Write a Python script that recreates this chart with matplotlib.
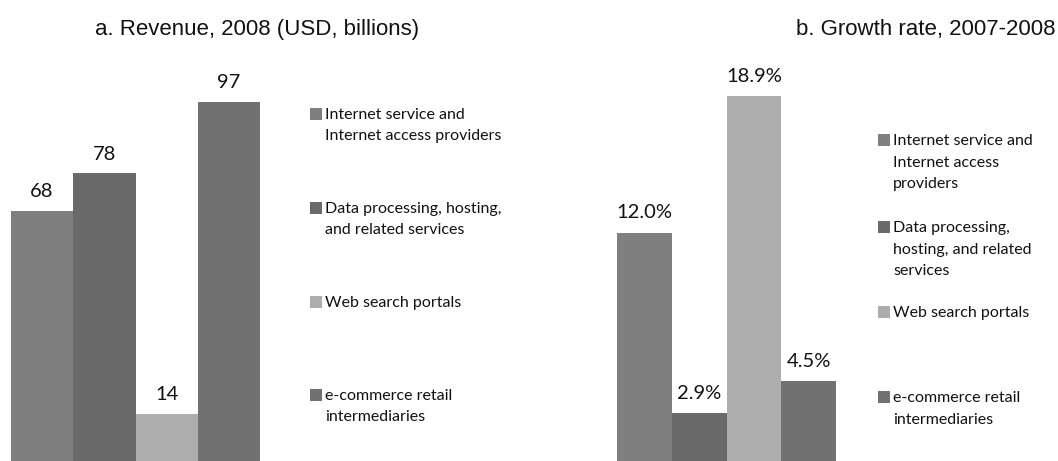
import matplotlib
matplotlib.use("Agg")
import matplotlib.pyplot as plt
from matplotlib.patches import Rectangle

# data
series = ["Internet service and Internet access providers",
          "Data processing, hosting, and related services",
          "Web search portals",
          "e-commerce retail intermediaries"]
revenue_2008 = [68, 78, 14, 97]
growth_2007_2008 = [12.0, 2.9, 18.9, 4.5]

# wrapped legend labels, as in each panel
legend_a = ["Internet service and\nInternet access providers",
            "Data processing, hosting,\nand related services",
            "Web search portals",
            "e-commerce retail\nintermediaries"]
legend_b = ["Internet service and\nInternet access\nproviders",
            "Data processing,\nhosting, and related\nservices",
            "Web search portals",
            "e-commerce retail\nintermediaries"]

colors = ["#7f7f7f", "#6a6a6a", "#adadad", "#717171"]

W, H = 1058, 461
LABEL_FONT = "Lato"
TITLE_FONT = "Liberation Sans"

fig = plt.figure(figsize=(W / 100, H / 100), dpi=100)


def px(x, y):
    """pixel (from top-left) -> figure fraction"""
    return x / W, 1 - y / H


def panel(x0, x1, ylim, values, fmt, off):
    ax = fig.add_axes([x0 / W, 0, (x1 - x0) / W, 1])
    xs = range(len(values))
    ax.bar(xs, values, width=1.0, color=colors)
    ax.set_xlim(-0.5, len(values) - 0.5)
    ax.set_ylim(*ylim)
    ax.axis("off")
    for x, v in zip(xs, values):
        ax.annotate(fmt(v), (x, v), xytext=(0, off), textcoords="offset points",
                    ha="center", va="baseline", fontsize=14.5, family=LABEL_FONT,
                    color="#111111")
    return ax


def legend(x, ys, labels, spacing):
    for y, lab, c in zip(ys, labels, colors):
        fx, fy = px(x, y + 6)
        fig.patches.append(Rectangle((fx, fy), 12 / W, 12 / H, facecolor=c,
                                     edgecolor="none", transform=fig.transFigure))
        tx, ty = px(x + 15, y - 6)
        fig.text(tx, ty, lab, ha="left", va="top", fontsize=11.5,
                 family=LABEL_FONT, color="#111111", linespacing=spacing)


# a. Revenue
panel(10.7, 260.3, (1.4, 124.0), revenue_2008, lambda v: f"{v:d}", 9.5)
legend(310, [114, 208, 302, 395], legend_a, 1.62)
fig.text(*px(257, 30), "a. Revenue, 2008 (USD, billions)", ha="center",
         va="center", fontsize=16, family=TITLE_FONT, color="#111111")

# b. Growth rate
panel(617.3, 836, (0.47, 23.74), growth_2007_2008, lambda v: f"{v:.1f}%", 10.3)
legend(878, [140, 227, 312, 397], legend_b, 1.7)
fig.text(*px(1055, 30), "b. Growth rate, 2007-2008", ha="right",
         va="center", fontsize=16, family=TITLE_FONT, color="#111111")

fig.savefig("out.png", dpi=100)
